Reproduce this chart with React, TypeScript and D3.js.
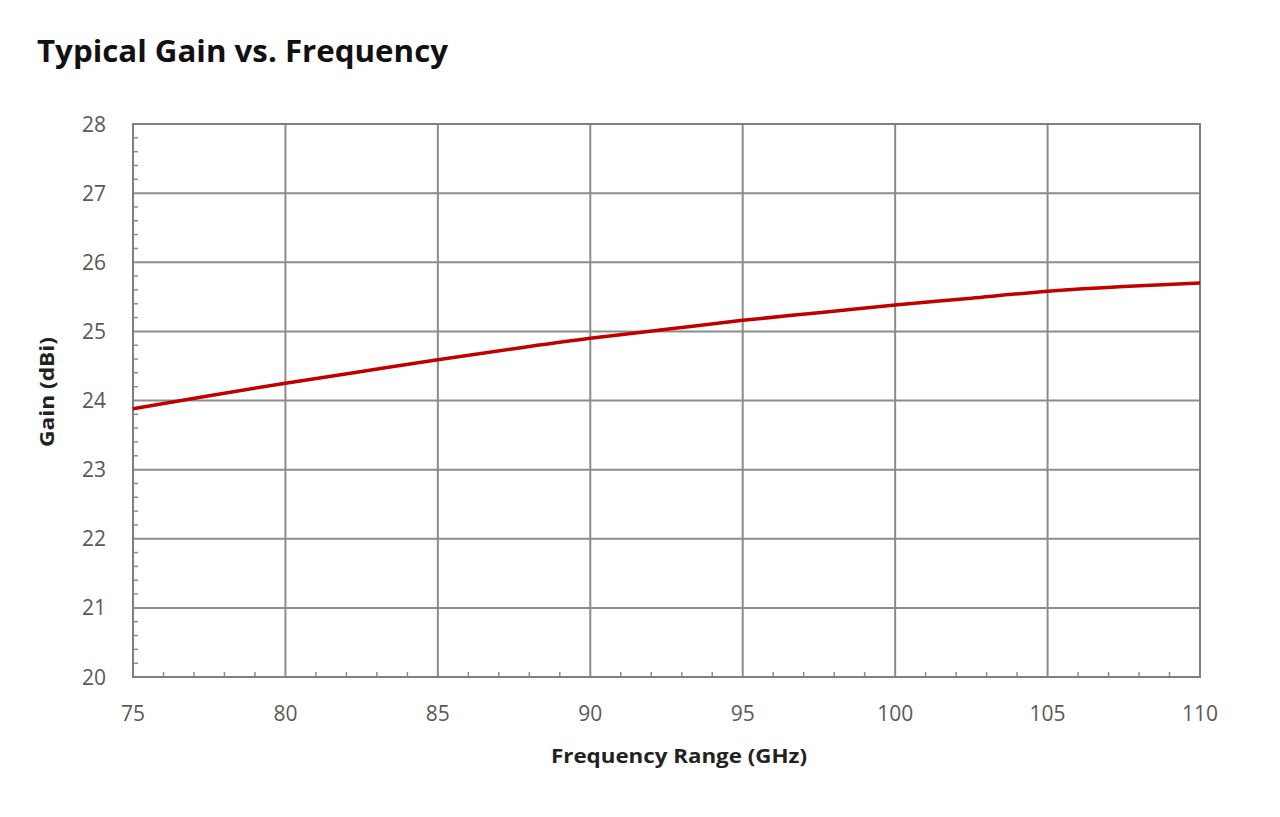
import React from "react";
import * as d3 from "d3";

const freqs = [75, 77.5, 80, 82.5, 85, 87.5, 90, 92.5, 95, 97.5, 100, 102.5, 105, 107.5, 110];
const gains = [23.88, 24.07, 24.25, 24.42, 24.59, 24.75, 24.9, 25.03, 25.16, 25.27, 25.38, 25.48, 25.58, 25.65, 25.7];
const xTicks = [75, 80, 85, 90, 95, 100, 105, 110];
const yTicks = [20, 21, 22, 23, 24, 25, 26, 27, 28];

const W = 1280, H = 817;
const M = { left: 133, right: 1200, top: 124, bottom: 677 };

export default function App() {
  const x = d3.scaleLinear().domain([75, 110]).range([M.left, M.right]);
  const y = d3.scaleLinear().domain([20, 28]).range([M.bottom, M.top]);
  const line = d3
    .line<number>()
    .x((_, i) => x(freqs[i]))
    .y((d) => y(d))
    .curve(d3.curveNatural);
  const minorX = d3.range(75, 111, 1).filter((v) => v % 5 !== 0);
  const minorY = d3.range(0, 41).map((i) => 20 + i * 0.2).filter((_, i) => i % 5 !== 0);
  const grid = "#8c8c8c";
  const font = "'Open Sans', 'Liberation Sans', sans-serif";
  return (
    <div style={{ position: "absolute", left: 0, top: 0 }}>
      <svg width={W} height={H} style={{ display: "block", background: "#fff" }}>
        <text x={37} y={62} fontFamily={font} fontWeight={700} fontSize={30} fill="#111" textLength={411} lengthAdjust="spacingAndGlyphs">
          Typical Gain vs. Frequency
        </text>
        {yTicks.map((t) => (
          <line key={"gy" + t} x1={M.left} x2={M.right} y1={y(t)} y2={y(t)} stroke={grid} strokeWidth={2} />
        ))}
        {xTicks.map((t) => (
          <line key={"gx" + t} x1={x(t)} x2={x(t)} y1={M.top} y2={M.bottom} stroke={grid} strokeWidth={2} />
        ))}
        {minorY.map((t, i) => (
          <line key={"my" + i} x1={M.left} x2={M.left + 5} y1={y(t)} y2={y(t)} stroke={grid} strokeWidth={1.5} />
        ))}
        {minorX.map((t) => (
          <line key={"mx" + t} x1={x(t)} x2={x(t)} y1={M.bottom} y2={M.bottom - 5} stroke={grid} strokeWidth={1.5} />
        ))}
        <rect x={M.left} y={M.top} width={M.right - M.left} height={M.bottom - M.top} fill="none" stroke="#7f7f7f" strokeWidth={2} />
        <path d={line(gains) || ""} fill="none" stroke="#c00000" strokeWidth={3.5} />
        {yTicks.map((t) => (
          <text key={"ly" + t} x={106} y={y(t) + 7.5} textAnchor="end" fontFamily={font} fontSize={21} fill="#595959">
            {t}
          </text>
        ))}
        {xTicks.map((t) => (
          <text key={"lx" + t} x={x(t)} y={721} textAnchor="middle" fontFamily={font} fontSize={21} fill="#595959">
            {t}
          </text>
        ))}
        <text x={679} y={763} textAnchor="middle" fontFamily={font} fontWeight={700} fontSize={20} fill="#222" textLength={256} lengthAdjust="spacingAndGlyphs">
          Frequency Range (GHz)
        </text>
        <text transform="translate(54,392) rotate(-90)" textAnchor="middle" fontFamily={font} fontWeight={700} fontSize={20} fill="#222" textLength={110} lengthAdjust="spacingAndGlyphs">
          Gain (dBi)
        </text>
      </svg>
    </div>
  );
}
